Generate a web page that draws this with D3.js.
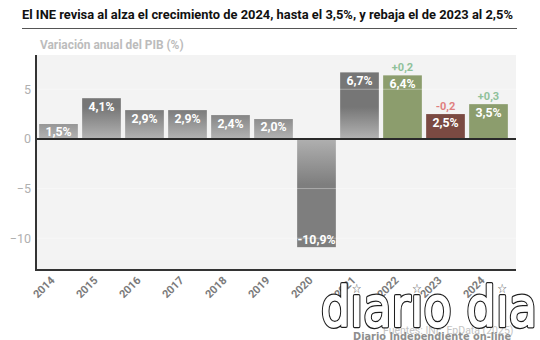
<!DOCTYPE html>
<html>
<head>
<meta charset="utf-8">
<script src="https://cdn.jsdelivr.net/npm/d3@7"></script>
<style>
  html, body { margin: 0; padding: 0; background: #ffffff; }
  svg { display: block; font-family: Roboto, "Noto Sans", sans-serif; }
</style>
</head>
<body>
<div id="chart"></div>
<script>
const years = ["2014","2015","2016","2017","2018","2019","2020","2021","2022","2023","2024"];
const values = [1.5, 4.1, 2.9, 2.9, 2.4, 2.0, -10.9, 6.7, 6.4, 2.5, 3.5];
const labels = ["1,5%","4,1%","2,9%","2,9%","2,4%","2,0%","-10,9%","6,7%","6,4%","2,5%","3,5%"];
const kinds = ["hist","hist","hist","hist","hist","hist","hist","hist","up","down","up"];
const revisionYears = ["2022","2023","2024"];
const revisionLabels = ["+0,2","-0,2","+0,3"];
const revisionKinds = ["up","down","up"];
const yTicks = [-10, -5, 0, 5];

const W = 540, H = 340;
const svg = d3.select("#chart").append("svg").attr("width", W).attr("height", H);

const plot = { left: 36, right: 516, top: 55, bottom: 270 };

const x = d3.scaleBand().domain(years).range([37, 510]).paddingInner(0.1).paddingOuter(0.05);
const y = d3.scaleLinear().domain([-13.2, 8.45]).range([plot.bottom, plot.top]);

const colors = { up: "#8c9d6d", down: "#7b4a42" };
const revColors = { up: "#8fc19a", down: "#e07f7f" };

// gradients
const defs = svg.append("defs");
const gPos = defs.append("linearGradient").attr("id", "gpos")
  .attr("gradientUnits", "userSpaceOnUse")
  .attr("x1", 0).attr("x2", 0).attr("y1", y(0)).attr("y2", y(3.2));
gPos.append("stop").attr("offset", 0).attr("stop-color", "#b3b3b3");
gPos.append("stop").attr("offset", 1).attr("stop-color", "#767676");
const gNeg = defs.append("linearGradient").attr("id", "gneg")
  .attr("gradientUnits", "userSpaceOnUse")
  .attr("x1", 0).attr("x2", 0).attr("y1", y(0)).attr("y2", y(-4.6));
gNeg.append("stop").attr("offset", 0).attr("stop-color", "#b0b0b0");
gNeg.append("stop").attr("offset", 1).attr("stop-color", "#7e7e7e");

// title
svg.append("text").attr("x", 22).attr("y", 19)
  .attr("font-size", 12.9).attr("font-weight", 700).attr("fill", "#111")
  .text("El INE revisa al alza el crecimiento de 2024, hasta el 3,5%, y rebaja el de 2023 al 2,5%");
svg.append("line").attr("x1", 22).attr("x2", 517).attr("y1", 28.5).attr("y2", 28.5)
  .attr("stroke", "#555").attr("stroke-width", 1);

// subtitle
svg.append("text").attr("x", 40).attr("y", 49)
  .attr("font-size", 11.9).attr("font-weight", 700).attr("fill", "#bcbcbc")
  .text("Variación anual del PIB (%)");

// plot background
svg.append("rect").attr("x", plot.left).attr("y", plot.top)
  .attr("width", plot.right - plot.left).attr("height", plot.bottom - plot.top)
  .attr("fill", "#f3f3f3");

// bars
const data = years.map((yr, i) => ({ yr, v: values[i], lab: labels[i], kind: kinds[i] }));
svg.append("g").selectAll("rect").data(data).join("rect")
  .attr("x", d => x(d.yr))
  .attr("width", x.bandwidth())
  .attr("y", d => d.v >= 0 ? y(d.v) : y(0))
  .attr("height", d => Math.abs(y(d.v) - y(0)))
  .attr("fill", d => d.kind === "hist" ? (d.v >= 0 ? "url(#gpos)" : "url(#gneg)") : colors[d.kind]);

// grid lines (light, over bars)
svg.append("g").selectAll("line").data(yTicks.filter(t => t !== 0)).join("line")
  .attr("x1", plot.left).attr("x2", plot.right)
  .attr("y1", d => y(d)).attr("y2", d => y(d))
  .attr("stroke", "#ffffff").attr("stroke-opacity", 0.35).attr("stroke-width", 1);

// bar labels
svg.append("g").selectAll("text").data(data).join("text")
  .attr("x", d => x(d.yr) + x.bandwidth() / 2)
  .attr("y", d => d.v >= 0 ? y(d.v) + 8 : y(d.v) - 8)
  .attr("dy", "0.36em")
  .attr("text-anchor", "middle")
  .attr("font-size", 12.3).attr("font-weight", 700).attr("fill", "#ffffff")
  .text(d => d.lab);

// revision annotations
const revData = revisionYears.map((yr, i) => ({ yr, lab: revisionLabels[i], kind: revisionKinds[i], v: values[years.indexOf(yr)] }));
svg.append("g").selectAll("text").data(revData).join("text")
  .attr("x", d => x(d.yr) + x.bandwidth() / 2)
  .attr("y", d => y(d.v) - 8)
  .attr("dy", "0.36em")
  .attr("text-anchor", "middle")
  .attr("font-size", 11).attr("font-weight", 700).attr("fill", d => revColors[d.kind])
  .text(d => d.lab);

// zero line
svg.append("line").attr("x1", plot.left).attr("x2", plot.right)
  .attr("y1", y(0)).attr("y2", y(0)).attr("stroke", "#2a2a2a").attr("stroke-width", 2);

// axes lines
svg.append("line").attr("x1", plot.left).attr("x2", plot.left)
  .attr("y1", plot.top).attr("y2", plot.bottom + 1).attr("stroke", "#333").attr("stroke-width", 2);
svg.append("line").attr("x1", plot.left - 1).attr("x2", plot.right)
  .attr("y1", plot.bottom).attr("y2", plot.bottom).attr("stroke", "#333").attr("stroke-width", 2);

// y tick labels
const yAxis = d3.axisLeft(y).tickValues(yTicks).tickSize(0).tickPadding(0);
const ga = svg.append("g").attr("transform", `translate(31,0)`).call(yAxis);
ga.select(".domain").remove();
ga.selectAll("text").attr("font-family", "Roboto, sans-serif").attr("font-size", 12.5)
  .attr("fill", "#b0b0b0");

// x labels
svg.append("g").selectAll("text").data(years).join("text")
  .attr("transform", d => `translate(${x(d) + x.bandwidth() / 2 - 3},281) rotate(-45)`)
  .attr("text-anchor", "end")
  .attr("font-size", 11).attr("font-weight", 700).attr("fill", "#7a7a7a")
  .text(d => d);

// watermark / source
const wm = svg.append("g");
wm.append("text").attr("x", 383).attr("y", 334)
  .attr("font-size", 10.5).attr("fill", "#c4c4c4")
  .text("Fuentes: INE, EpData (2025)");
const logo = wm.append("g").attr("transform", "translate(321,326) scale(1,1.18)");
const str = "d\u0131ar\u0131o d\u0131a";
const logoOuter = logo.append("text")
  .attr("font-family", "DejaVu Sans, sans-serif")
  .attr("font-size", 46)
  .attr("textLength", 216).attr("lengthAdjust", "spacing")
  .attr("fill", "#1e1e1e")
  .attr("stroke", "#1e1e1e").attr("stroke-width", 3.4).attr("stroke-linejoin", "round")
  .text(str);
logo.append("text")
  .attr("font-family", "DejaVu Sans, sans-serif")
  .attr("font-size", 46)
  .attr("textLength", 216).attr("lengthAdjust", "spacing")
  .attr("fill", "#ffffff")
  .attr("stroke", "#ffffff").attr("stroke-width", 1.3).attr("stroke-linejoin", "round")
  .text(str);
const node = logoOuter.node();
for (let i = 0; i < str.length; i++) {
  if (str[i] === "\u0131") {
    const ext = node.getExtentOfChar(i);
    logo.append("text")
      .attr("x", ext.x + ext.width / 2).attr("y", -28)
      .attr("text-anchor", "middle")
      .attr("font-family", "DejaVu Sans, sans-serif")
      .attr("font-size", 11).attr("fill", "#444")
      .text("\u2606");
  }
}
wm.append("text").attr("x", 353).attr("y", 339.5)
  .attr("font-family", "DejaVu Sans, sans-serif")
  .attr("font-size", 9.8).attr("font-weight", 700).attr("fill", "#8e8e8e")
  .text("Diario Independiente on-line");
</script>
</body>
</html>
